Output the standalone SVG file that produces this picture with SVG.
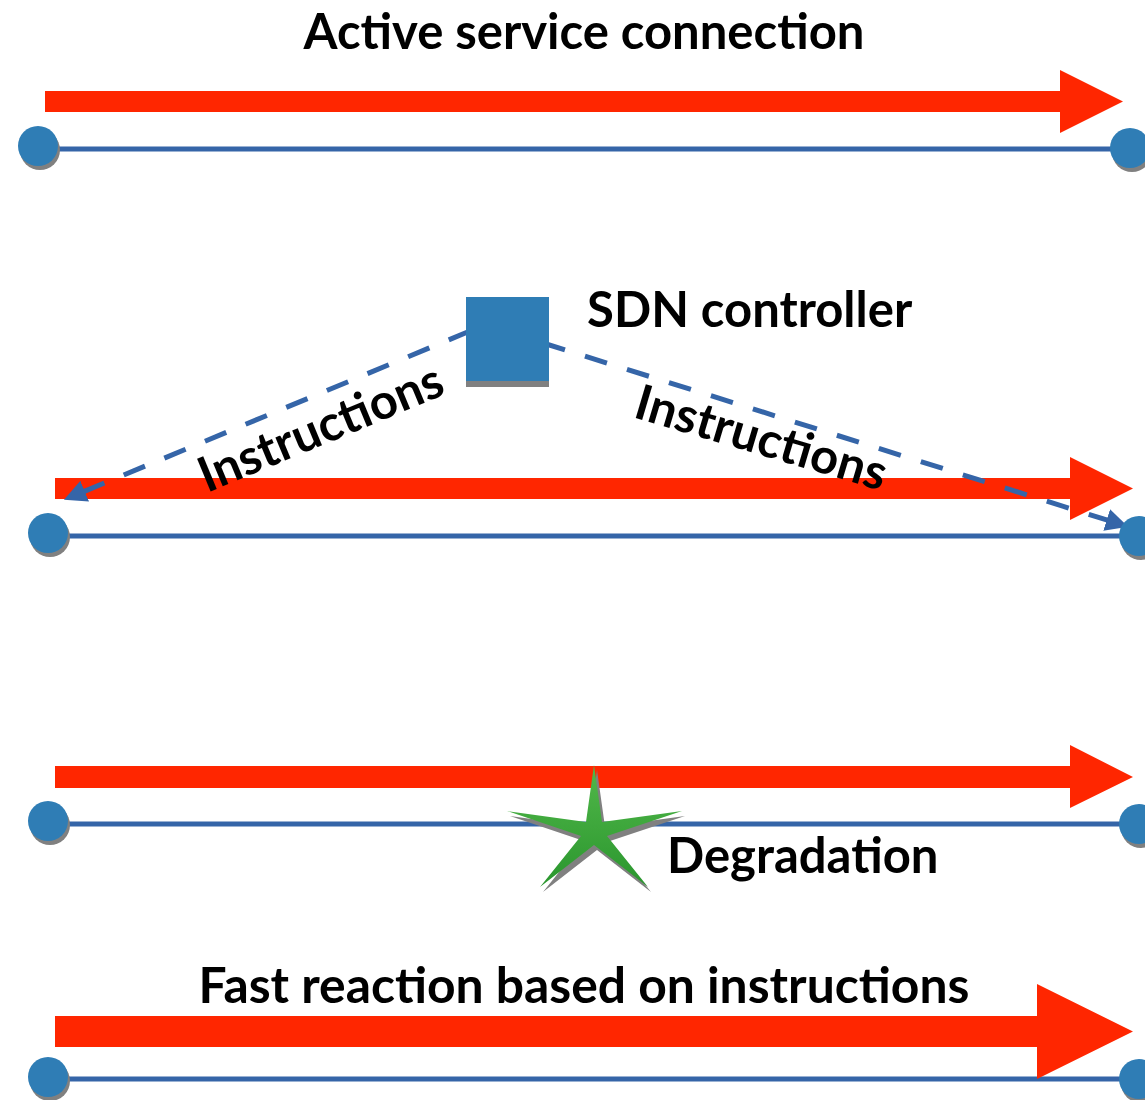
<svg xmlns="http://www.w3.org/2000/svg" width="1145" height="1100" viewBox="0 0 1145 1100">
<style>
.lbl{font-family:Lato,"Open Sans","DejaVu Sans",sans-serif;font-weight:bold;font-size:49px;fill:#000}
.arrow{fill:#ff2600}
.link{stroke:#3565a8;stroke-width:5;fill:none}
.node{fill:#2f7db5}
.shadow{fill:#808080}
.dash{stroke:#3565a8;stroke-width:5;fill:none;stroke-dasharray:23 21}
</style>
<defs>
<marker id="ah" viewBox="0 0 10 10" refX="9" refY="5" markerWidth="4.5" markerHeight="4.5" orient="auto" markerUnits="strokeWidth">
<path d="M0,0 L10,5 L0,10 z" fill="#3565a8"/>
</marker>
<linearGradient id="g" x1="0" y1="0" x2="0" y2="1">
<stop offset="0" stop-color="#52b84a"/>
<stop offset="1" stop-color="#2a962e"/>
</linearGradient>
<g id="dot"><circle cx="2" cy="4" r="20" class="shadow"/><circle cx="0" cy="0" r="20" class="node"/></g>
</defs>
<rect width="1145" height="1100" fill="#fff"/>

<g id="connectors">
<line class="link" x1="38" y1="149" x2="1130" y2="149"/>
<line class="link" x1="48" y1="536" x2="1138" y2="536"/>
<line class="link" x1="48" y1="824" x2="1138" y2="824"/>
<line class="link" x1="48" y1="1079" x2="1138" y2="1079"/>
<polygon class="arrow" points="45,91 1060,91 1060,70 1123,101.5 1060,133 1060,112 45,112"/>
<polygon class="arrow" points="55,478 1070,478 1070,457 1133,488.5 1070,520 1070,499 55,499"/>
<polygon class="arrow" points="55,766 1070,766 1070,745 1133,777 1070,808 1070,788 55,788"/>
<polygon class="arrow" points="55,1016 1037,1016 1037,984 1133,1031.5 1037,1079 1037,1047 55,1047"/>
<line class="dash" x1="470" y1="331" x2="66" y2="499" marker-end="url(#ah)"/>
<line class="dash" x1="543" y1="343" x2="1126" y2="526" marker-end="url(#ah)"/>
</g>

<g id="node-a1"><use href="#dot" x="38" y="146"/></g>
<g id="node-b1"><use href="#dot" x="1130" y="148"/></g>
<g id="node-a2"><use href="#dot" x="48" y="533"/></g>
<g id="node-b2"><use href="#dot" x="1139" y="536"/></g>
<g id="node-a3"><use href="#dot" x="48" y="821"/></g>
<g id="node-b3"><use href="#dot" x="1139" y="824"/></g>
<g id="node-a4"><use href="#dot" x="48" y="1077"/></g>
<g id="node-b4"><use href="#dot" x="1139" y="1079"/></g>

<g id="sdn-controller">
<rect x="466" y="303" width="83" height="84" class="shadow"/>
<rect x="466" y="297" width="83" height="84" class="node"/>
<text class="lbl" x="587" y="327">SDN controller</text>
</g>

<g id="degradation">
<polygon class="shadow" transform="translate(3,5)" points="594,765 602,822 682,811 607,836 648,887 594,845 540,887 581,836 507,811 586,822"/>
<polygon fill="url(#g)" points="594,765 602,822 682,811 607,836 648,887 594,845 540,887 581,836 507,811 586,822"/>
<text class="lbl" x="667" y="873">Degradation</text>
</g>

<g id="labels">
<text class="lbl" x="584" y="49" text-anchor="middle">Active service connection</text>
<text class="lbl" x="584" y="1003" text-anchor="middle" style="font-size:49.8px">Fast reaction based on instructions</text>
<text class="lbl" transform="translate(207,493) rotate(-22.5)">Instructions</text>
<text class="lbl" transform="translate(632,417) rotate(16.5)">Instructions</text>
</g>
</svg>
